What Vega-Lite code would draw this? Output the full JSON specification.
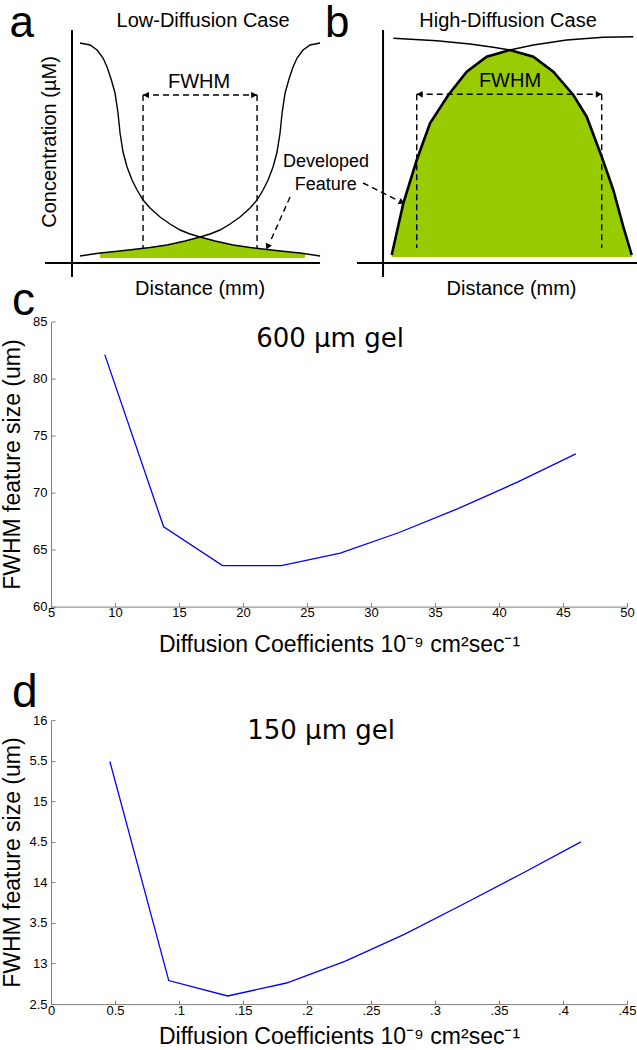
{
  "$schema": "https://vega.github.io/schema/vega-lite/v6.json",
  "background": "white",
  "padding": 0,
  "spacing": -22.4,
  "config": {
    "view": {"stroke": null},
    "font": "Liberation Sans",
    "axis": {"domainColor": "#7f7f7f", "tickColor": "#7f7f7f", "tickSize": -4, "labelFont": "Liberation Sans", "labelFontSize": 13, "labelColor": "#000000", "titleFont": "Liberation Sans", "titleFontSize": 23, "titleFontWeight": "normal", "titleColor": "#000000", "grid": false, "labelFlush": false, "labelOverlap": false, "domainWidth": 1},
    "axisX": {"labelPadding": 4, "titlePadding": 14},
    "axisY": {"labelPadding": 8, "titleX": -27},
    "title": {"font": "Liberation Sans", "fontSize": 46, "fontWeight": "normal", "anchor": "start", "frame": "bounds", "baseline": "alphabetic", "color": "#000000"}
  },
  "datasets": {
    "solid": [
      {"x": 11.30, "y": 90, "x2": 11.30, "y2": 7.67},
      {"x": 7.06, "y": 12.33, "x2": 50.24, "y2": 12.33},
      {"x": 60.13, "y": 90, "x2": 60.13, "y2": 7.67},
      {"x": 56.04, "y": 12.33, "x2": 100, "y2": 12.33}
    ],
    "dashed": [
      {"x": 22.45, "y": 68.33, "x2": 40.35, "y2": 68.33},
      {"x": 22.45, "y": 68.33, "x2": 22.45, "y2": 17.33},
      {"x": 40.35, "y": 68.33, "x2": 40.35, "y2": 17.33},
      {"x": 65.42, "y": 68.57, "x2": 94.46, "y2": 68.57},
      {"x": 65.42, "y": 68.57, "x2": 65.42, "y2": 17.33},
      {"x": 94.46, "y": 68.57, "x2": 94.46, "y2": 17.33},
      {"x": 45.53, "y": 34.33, "x2": 42.39, "y2": 19.33},
      {"x": 56.99, "y": 39.0, "x2": 62.48, "y2": 33.17}
    ],
    "feature": [
      {"panel": "a", "x": 15.70, "y": 15.67, "y2": 14.0},
      {"panel": "a", "x": 18.05, "y": 16.17, "y2": 14.0},
      {"panel": "a", "x": 20.88, "y": 16.83, "y2": 14.0},
      {"panel": "a", "x": 23.55, "y": 17.5, "y2": 14.0},
      {"panel": "a", "x": 26.22, "y": 18.33, "y2": 14.0},
      {"panel": "a", "x": 29.04, "y": 19.67, "y2": 14.0},
      {"panel": "a", "x": 31.40, "y": 21.0, "y2": 14.0},
      {"panel": "a", "x": 33.75, "y": 19.67, "y2": 14.0},
      {"panel": "a", "x": 36.58, "y": 18.33, "y2": 14.0},
      {"panel": "a", "x": 39.25, "y": 17.5, "y2": 14.0},
      {"panel": "a", "x": 41.92, "y": 16.83, "y2": 14.0},
      {"panel": "a", "x": 44.74, "y": 16.17, "y2": 14.0},
      {"panel": "a", "x": 47.10, "y": 15.67, "y2": 14.0},
      {"panel": "a", "x": 47.88, "y": 15.5, "y2": 14.0},
      {"panel": "b", "x": 61.49, "y": 15.0, "y2": 14.33},
      {"panel": "b", "x": 63.31, "y": 32.23, "y2": 14.33},
      {"panel": "b", "x": 65.42, "y": 46.67, "y2": 14.33},
      {"panel": "b", "x": 67.50, "y": 58.9, "y2": 14.33},
      {"panel": "b", "x": 70.38, "y": 68.33, "y2": 14.33},
      {"panel": "b", "x": 73.27, "y": 76.1, "y2": 14.33},
      {"panel": "b", "x": 76.40, "y": 81.1, "y2": 14.33},
      {"panel": "b", "x": 80.06, "y": 83.33, "y2": 14.33},
      {"panel": "b", "x": 83.72, "y": 81.1, "y2": 14.33},
      {"panel": "b", "x": 86.86, "y": 76.1, "y2": 14.33},
      {"panel": "b", "x": 90.00, "y": 68.33, "y2": 14.33},
      {"panel": "b", "x": 92.10, "y": 61.1, "y2": 14.33},
      {"panel": "b", "x": 94.46, "y": 47.77, "y2": 14.33},
      {"panel": "b", "x": 96.28, "y": 36.67, "y2": 14.33},
      {"panel": "b", "x": 97.85, "y": 24.43, "y2": 14.33},
      {"panel": "b", "x": 99.17, "y": 15.0, "y2": 14.33}
    ],
    "curves": [
      {"curve": "L", "x": 12.56, "y": 85.67}, {"curve": "L", "x": 14.13, "y": 85}, {"curve": "L", "x": 15.23, "y": 83.33},
      {"curve": "L", "x": 16.17, "y": 80.67}, {"curve": "L", "x": 16.80, "y": 77.67}, {"curve": "L", "x": 17.43, "y": 73.67},
      {"curve": "L", "x": 18.05, "y": 69}, {"curve": "L", "x": 18.52, "y": 62.33}, {"curve": "L", "x": 18.84, "y": 55.67},
      {"curve": "L", "x": 19.31, "y": 49.33}, {"curve": "L", "x": 19.94, "y": 44.33}, {"curve": "L", "x": 20.72, "y": 40},
      {"curve": "L", "x": 21.51, "y": 36.67}, {"curve": "L", "x": 22.45, "y": 33.33}, {"curve": "L", "x": 23.55, "y": 30.67},
      {"curve": "L", "x": 25.12, "y": 27.67}, {"curve": "L", "x": 26.69, "y": 25.33}, {"curve": "L", "x": 28.26, "y": 23.33},
      {"curve": "L", "x": 29.83, "y": 22}, {"curve": "L", "x": 31.40, "y": 21}, {"curve": "L", "x": 33.75, "y": 19.67},
      {"curve": "L", "x": 36.58, "y": 18.33}, {"curve": "L", "x": 39.25, "y": 17.5}, {"curve": "L", "x": 41.92, "y": 16.83},
      {"curve": "L", "x": 44.74, "y": 16.17}, {"curve": "L", "x": 47.10, "y": 15.67}, {"curve": "L", "x": 50.24, "y": 14.67},
      {"curve": "R", "x": 50.24, "y": 85.67}, {"curve": "R", "x": 48.67, "y": 85}, {"curve": "R", "x": 47.57, "y": 83.33},
      {"curve": "R", "x": 46.63, "y": 80.67}, {"curve": "R", "x": 46.00, "y": 77.67}, {"curve": "R", "x": 45.37, "y": 73.67},
      {"curve": "R", "x": 44.75, "y": 69}, {"curve": "R", "x": 44.28, "y": 62.33}, {"curve": "R", "x": 43.96, "y": 55.67},
      {"curve": "R", "x": 43.49, "y": 49.33}, {"curve": "R", "x": 42.86, "y": 44.33}, {"curve": "R", "x": 42.08, "y": 40},
      {"curve": "R", "x": 41.29, "y": 36.67}, {"curve": "R", "x": 40.35, "y": 33.33}, {"curve": "R", "x": 39.25, "y": 30.67},
      {"curve": "R", "x": 37.68, "y": 27.67}, {"curve": "R", "x": 36.11, "y": 25.33}, {"curve": "R", "x": 34.54, "y": 23.33},
      {"curve": "R", "x": 32.97, "y": 22}, {"curve": "R", "x": 31.40, "y": 21}, {"curve": "R", "x": 29.05, "y": 19.67},
      {"curve": "R", "x": 26.22, "y": 18.33}, {"curve": "R", "x": 23.55, "y": 17.5}, {"curve": "R", "x": 20.88, "y": 16.83},
      {"curve": "R", "x": 18.06, "y": 16.17}, {"curve": "R", "x": 15.70, "y": 15.67}, {"curve": "R", "x": 12.56, "y": 14.67},
      {"curve": "BL", "x": 61.74, "y": 87.23}, {"curve": "BL", "x": 68.56, "y": 86.43}, {"curve": "BL", "x": 73.78, "y": 85.33},
      {"curve": "BL", "x": 77.44, "y": 84.23}, {"curve": "BL", "x": 80.06, "y": 83.33},
      {"curve": "BR", "x": 80.06, "y": 83.33}, {"curve": "BR", "x": 83.72, "y": 85}, {"curve": "BR", "x": 88.96, "y": 86.67},
      {"curve": "BR", "x": 94.71, "y": 87.57}, {"curve": "BR", "x": 99.42, "y": 87.77}
    ],
    "letters": [
      {"label": "a", "x": 1.49, "y": 87.83},
      {"label": "b", "x": 51.02, "y": 87.83}
    ],
    "headings": [
      {"label": "Low-Diffusion Case", "x": 31.87, "y": 91.1},
      {"label": "High-Diffusion Case", "x": 79.75, "y": 91.1},
      {"label": "Distance (mm)", "x": 31.4, "y": 1.67},
      {"label": "Distance (mm)", "x": 80.3, "y": 1.67},
      {"label": "FWHM", "x": 31.24, "y": 70.67},
      {"label": "FWHM", "x": 80.06, "y": 71}
    ],
    "notes": [
      {"label": "Developed", "x": 51.18, "y": 44.33},
      {"label": "Feature", "x": 51.13, "y": 36.67}
    ],
    "ylabel": [
      {"label": "Concentration (µM)", "x": 7.85, "y": 52.67}
    ],
    "headsLeft": [
      {"x": 22.92, "y": 68.33},
      {"x": 65.89, "y": 68.57}
    ],
    "headsRight": [
      {"x": 39.88, "y": 68.33},
      {"x": 93.99, "y": 68.57}
    ],
    "headA": [{"x": 42.07, "y": 18.0}],
    "headB": [{"x": 62.95, "y": 32.67}],
    "gel600": [
      {"D": 9.2, "FWHM": 82.1}, {"D": 13.8, "FWHM": 67.0}, {"D": 18.4, "FWHM": 63.6},
      {"D": 23.0, "FWHM": 63.6}, {"D": 27.6, "FWHM": 64.7}, {"D": 32.2, "FWHM": 66.5},
      {"D": 36.8, "FWHM": 68.6}, {"D": 41.4, "FWHM": 70.9}, {"D": 46.0, "FWHM": 73.4}
    ],
    "gel150": [
      {"D": 0.046, "FWHM": 15.49}, {"D": 0.092, "FWHM": 12.79}, {"D": 0.138, "FWHM": 12.60},
      {"D": 0.184, "FWHM": 12.76}, {"D": 0.230, "FWHM": 13.03}, {"D": 0.276, "FWHM": 13.36},
      {"D": 0.322, "FWHM": 13.73}, {"D": 0.368, "FWHM": 14.11}, {"D": 0.414, "FWHM": 14.50}
    ]
  },
  "vconcat": [
    {
      "width": 586,
      "height": 300,
      "encoding": {
        "x": {"field": "x", "type": "quantitative", "scale": {"domain": [8.0, 100], "nice": false, "zero": false}, "axis": null},
        "y": {"field": "y", "type": "quantitative", "scale": {"domain": [0, 100], "nice": false, "zero": false}, "axis": null}
      },
      "layer": [
        {"data": {"name": "feature"}, "mark": {"type": "area", "color": "#99cc00", "opacity": 1}, "encoding": {"y2": {"field": "y2"}, "detail": {"field": "panel"}}},
        {"data": {"name": "curves"}, "mark": {"type": "line", "color": "#000000", "strokeWidth": 1.4}, "encoding": {"detail": {"field": "curve"}}},
        {"data": {"name": "feature"}, "transform": [{"filter": "datum.panel == 'b'"}], "mark": {"type": "line", "color": "#000000", "strokeWidth": 2.6}, "encoding": {}},
        {"data": {"name": "solid"}, "mark": {"type": "rule", "color": "#000000", "strokeWidth": 2}, "encoding": {"x2": {"field": "x2"}, "y2": {"field": "y2"}}},
        {"data": {"name": "dashed"}, "mark": {"type": "rule", "color": "#000000", "strokeWidth": 1.4, "strokeDash": [6, 4]}, "encoding": {"x2": {"field": "x2"}, "y2": {"field": "y2"}}},
        {"data": {"name": "headsLeft"}, "mark": {"type": "point", "shape": "triangle-left", "filled": true, "color": "#000000", "size": 45, "opacity": 1}},
        {"data": {"name": "headsRight"}, "mark": {"type": "point", "shape": "triangle-right", "filled": true, "color": "#000000", "size": 45, "opacity": 1}},
        {"data": {"name": "headA"}, "mark": {"type": "point", "shape": "triangle", "angle": 204, "filled": true, "color": "#000000", "size": 45, "opacity": 1}},
        {"data": {"name": "headB"}, "mark": {"type": "point", "shape": "triangle", "angle": 117, "filled": true, "color": "#000000", "size": 45, "opacity": 1}},
        {"data": {"name": "letters"}, "mark": {"type": "text", "font": "Liberation Sans", "fontSize": 44, "align": "left", "baseline": "alphabetic", "color": "#000000"}, "encoding": {"text": {"field": "label"}}},
        {"data": {"name": "headings"}, "mark": {"type": "text", "font": "Liberation Sans", "fontSize": 20, "align": "center", "baseline": "alphabetic", "color": "#000000"}, "encoding": {"text": {"field": "label"}}},
        {"data": {"name": "notes"}, "mark": {"type": "text", "font": "Liberation Sans", "fontSize": 18, "align": "center", "baseline": "alphabetic", "color": "#000000"}, "encoding": {"text": {"field": "label"}}},
        {"data": {"name": "ylabel"}, "mark": {"type": "text", "font": "Liberation Sans", "fontSize": 20, "align": "center", "baseline": "middle", "angle": 270, "color": "#000000"}, "encoding": {"text": {"field": "label"}}}
      ]
    },
    {
      "spacing": 12.5,
      "vconcat": [
        {
          "width": 576,
          "height": 285,
          "title": {"text": "c", "offset": -9, "dx": 11},
          "layer": [
            {
              "data": {"name": "gel600"},
              "mark": {"type": "line", "color": "#0000ff", "strokeWidth": 1.3},
              "encoding": {
                "x": {"field": "D", "type": "quantitative", "scale": {"domain": [5, 50], "nice": false, "zero": false}, "axis": {"values": [5, 10, 15, 20, 25, 30, 35, 40, 45, 50], "title": "Diffusion Coefficients 10⁻⁹  cm²sec⁻¹"}},
                "y": {"field": "FWHM", "type": "quantitative", "scale": {"domain": [60, 85], "nice": false, "zero": false}, "axis": {"values": [60, 65, 70, 75, 80, 85], "title": "FWHM feature size (um)"}}
              }
            },
            {
              "data": {"values": [{"label": "600 µm gel"}]},
              "mark": {"type": "text", "font": "DejaVu Sans", "fontSize": 26, "align": "center", "baseline": "alphabetic", "color": "#000000"},
              "encoding": {"x": {"datum": 26.8, "type": "quantitative"}, "y": {"datum": 82.8, "type": "quantitative"}, "text": {"field": "label"}}
            }
          ]
        },
        {
          "width": 576,
          "height": 284,
          "title": {"text": "d", "offset": -2.5, "dx": 11},
          "layer": [
            {
              "data": {"name": "gel150"},
              "mark": {"type": "line", "color": "#0000ff", "strokeWidth": 1.3},
              "encoding": {
                "x": {"field": "D", "type": "quantitative", "scale": {"domain": [0, 0.45], "nice": false, "zero": false}, "axis": {"values": [0, 0.05, 0.1, 0.15, 0.2, 0.25, 0.3, 0.35, 0.4, 0.45], "labelExpr": "datum.value == 0 ? '0' : datum.value == 0.05 ? '0.5' : replace(format(datum.value, '.2~f'), '0.', '.')", "title": "Diffusion Coefficients 10⁻⁹  cm²sec⁻¹", "titlePadding": 8}},
                "y": {"field": "FWHM", "type": "quantitative", "scale": {"domain": [12.5, 16], "nice": false, "zero": false}, "axis": {"values": [12.5, 13, 13.5, 14, 14.5, 15, 15.5, 16], "labelExpr": "datum.value == 15.5 ? '5.5' : datum.value == 14.5 ? '4.5' : datum.value == 13.5 ? '3.5' : datum.value == 12.5 ? '2.5' : format(datum.value, 'd')", "title": "FWHM feature size (um)"}}
              }
            },
            {
              "data": {"values": [{"label": "150 µm gel"}]},
              "mark": {"type": "text", "font": "DejaVu Sans", "fontSize": 26, "align": "center", "baseline": "alphabetic", "color": "#000000"},
              "encoding": {"x": {"datum": 0.211, "type": "quantitative"}, "y": {"datum": 15.77, "type": "quantitative"}, "text": {"field": "label"}}
            }
          ]
        }
      ]
    }
  ]
}
